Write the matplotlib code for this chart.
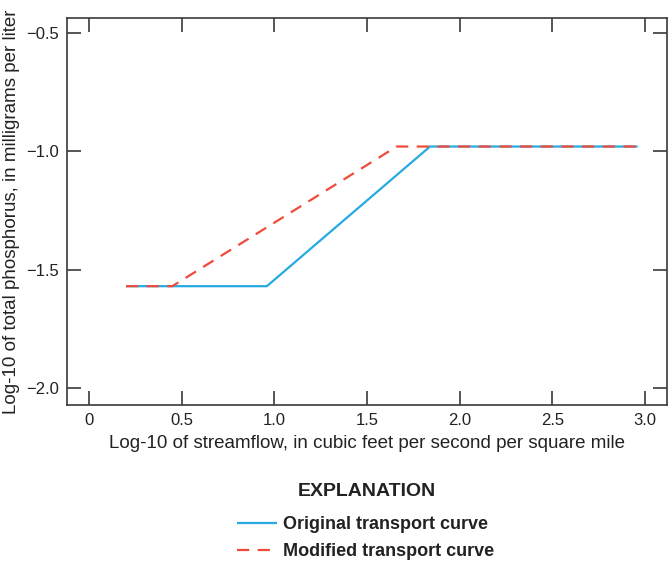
import matplotlib
matplotlib.use("Agg")
import matplotlib.pyplot as plt
from matplotlib import font_manager

# pick a narrow face if the system has one
names = {f.name for f in font_manager.fontManager.ttflist}
family = "Liberation Sans Narrow" if "Liberation Sans Narrow" in names else "Liberation Sans"
plt.rcParams["font.family"] = [family, "DejaVu Sans"]

# transport curves, log10 streamflow vs log10 total phosphorus
orig_x = [0.20, 0.96, 1.84, 2.96]
orig_y = [-1.57, -1.57, -0.98, -0.98]
mod_x = [0.20, 0.45, 1.66, 2.96]
mod_y = [-1.57, -1.57, -0.98, -0.98]

xticks = [0, 0.5, 1.0, 1.5, 2.0, 2.5, 3.0]
xticklabels = ["0", "0.5", "1.0", "1.5", "2.0", "2.5", "3.0"]
yticks = [-0.5, -1.0, -1.5, -2.0]
yticklabels = ["\u22120.5", "\u22121.0", "\u22121.5", "\u22122.0"]

blue = "#27aae1"
red = "#ef4b3a"
dark = "#3a3a3a"

fig = plt.figure(figsize=(6.68, 5.65), dpi=100)
ax = fig.add_axes([67 / 668, 1 - 405 / 565, 600 / 668, 387 / 565])

l1, = ax.plot(orig_x, orig_y, color=blue, lw=1.6, solid_capstyle="butt")
l2, = ax.plot(mod_x, mod_y, color=red, lw=1.6, dashes=(5.5, 3.8))

ax.set_xlim(-0.118, 3.118)
ax.set_ylim(-2.072, -0.437)
ax.set_xticks(xticks)
ax.set_xticklabels(xticklabels)
ax.set_yticks(yticks)
ax.set_yticklabels(yticklabels)
ax.tick_params(direction="in", length=10, width=1.2, color=dark,
               top=True, right=True, labelsize=12, labelcolor="#222222", pad=6)
for s in ax.spines.values():
    s.set_color(dark)
    s.set_linewidth(1.2)

ax.set_xlabel("Log-10 of streamflow, in cubic feet per second per square mile",
              fontsize=13.5, color="#222222", labelpad=5)
ax.set_ylabel("Log-10 of total phosphorus, in milligrams per liter",
              fontsize=13.5, color="#222222", labelpad=4)

fig.text(367 / 668, 1 - 492 / 565, "EXPLANATION", ha="center", va="center",
         fontsize=14, fontweight="bold", color="#222222")
leg = fig.legend([l1, l2], ["Original transport curve", "Modified transport curve"],
                 loc="upper left", bbox_to_anchor=(237 / 668, 1 - 516 / 565),
                 frameon=False, handlelength=2.2, handletextpad=0.35,
                 labelspacing=0.58, borderpad=0, borderaxespad=0,
                 prop={"weight": "bold", "size": 13})
for t in leg.get_texts():
    t.set_color("#222222")

fig.savefig("out.png", dpi=100)
